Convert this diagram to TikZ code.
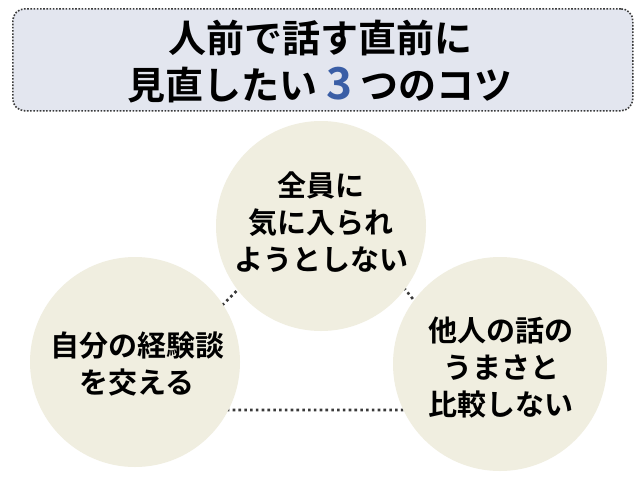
\documentclass[tikz,border=0pt]{standalone}
\usepackage{fontspec}
\setmainfont{Noto Sans CJK JP Bold}
\newfontfamily\jpb{Noto Sans CJK JP Bold}
\definecolor{titlefill}{HTML}{E3E6EF}
\definecolor{circfill}{HTML}{F0EEE0}
\definecolor{dotgray}{HTML}{3A3A3A}
\definecolor{numblue}{HTML}{3A5EA6}
\tikzset{
  titlebox/.style={draw=dotgray, line width=1.6pt, dash pattern=on 1.6pt off 1.6pt, fill=titlefill, rounded corners=12pt},
  bubble/.style={circle, fill=circfill, minimum size=#1, inner sep=0pt},
  bubbletext/.style={align=center, font=\jpb\fontsize{29}{37}\selectfont, text=black},
  link/.style={draw=dotgray, line width=2.6pt, dash pattern=on 2.6pt off 3.2pt}
}
\begin{document}
\begin{tikzpicture}[x=1pt,y=-1pt]
\useasboundingbox[fill=white] (0,0) rectangle (640,480);
% title
\node[titlebox, minimum width=620pt, minimum height=102pt, anchor=north west] (title) at (12,8) {};
\node[align=center, font=\jpb\fontsize{38}{47}\selectfont] (titletext) at (320,62)
  {人前で話す直前に\\見直したい\hspace{9pt}{\fontsize{44}{47}\selectfont\color{numblue}3}\hspace{9pt}つのコツ};
% triangle connectors
\coordinate (tA) at (331,197);
\coordinate (tB) at (117,410);
\coordinate (tC) at (502,410);
\draw[link] (tA) -- (tB) -- (tC) -- cycle;
% circles
\node[bubble=210pt] (top) at (321,226) {};
\node[bubble=210pt] (left) at (135,362) {};
\node[bubble=214pt] (right) at (500,364) {};
% texts
\node[bubbletext] (toptext) at (321,222) {全員に\\気に入られ\\ようとしない};
\node[bubbletext] (lefttext) at (137,364) {自分の経験談\\を交える};
\node[bubbletext] (righttext) at (501,368) {他人の話の\\うまさと\\比較しない};
\end{tikzpicture}
\end{document}
